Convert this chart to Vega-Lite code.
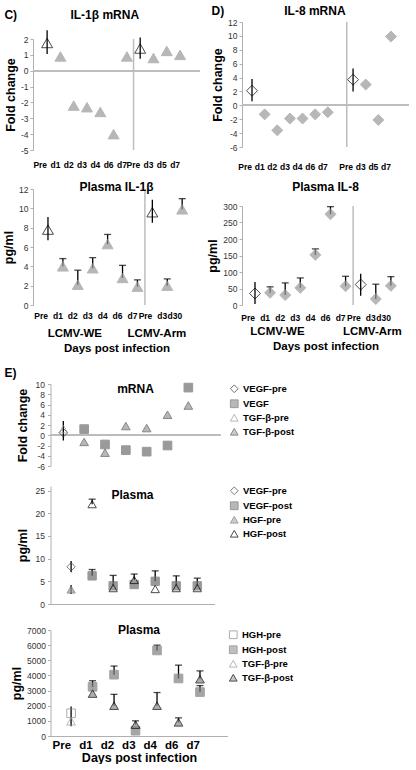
{
  "$schema": "https://vega.github.io/schema/vega-lite/v6.json",
  "padding": {"left": 2, "top": 2, "right": 2, "bottom": 0},
  "config": {
    "font": "Liberation Sans",
    "view": {"stroke": null},
    "axis": {"grid": false, "labelFontSize": 8.5, "labelColor": "#333", "labelOverlap": false, "labelBound": false, "domainColor": "#b0b0b0", "tickColor": "#b0b0b0", "tickSize": 3, "titleFontSize": 12.5, "titleFontWeight": "bold", "titleColor": "#000", "titlePadding": 3},
    "title": {"fontSize": 12, "fontWeight": "bold", "color": "#000"},
    "legend": {"labelFontSize": 9.5, "labelFontWeight": "bold", "labelColor": "#000", "symbolSize": 60, "rowPadding": 2, "padding": 0, "symbolStrokeWidth": 1}
  },
  "datasets": {
    "cm": [
      {"x": "WE-Pre", "v": 1.75, "lo": 1.05, "hi": 2.55, "k": "open"},
      {"x": "WE-d1", "v": 0.9, "k": "filled"},
      {"x": "WE-d2", "v": -2.2, "k": "filled"},
      {"x": "WE-d3", "v": -2.3, "k": "filled"},
      {"x": "WE-d4", "v": -2.6, "k": "filled"},
      {"x": "WE-d6", "v": -4.0, "k": "filled"},
      {"x": "WE-d7", "v": 0.9, "k": "filled"},
      {"x": "WE-d7", "k": "sep"},
      {"x": "Arm-Pre", "v": 1.4, "lo": 0.75, "hi": 2.1, "k": "open"},
      {"x": "Arm-d3", "v": 0.8, "k": "filled"},
      {"x": "Arm-d5", "v": 1.25, "k": "filled"},
      {"x": "Arm-d7", "v": 1.0, "k": "filled"}
    ],
    "cp": [
      {"x": "WE-Pre", "v": 7.8, "lo": 6.7, "hi": 9.1, "k": "open"},
      {"x": "WE-d1", "v": 4.0, "lo": 4.0, "hi": 4.8, "cap": 1, "k": "filled"},
      {"x": "WE-d2", "v": 2.1, "lo": 2.1, "hi": 3.6, "cap": 1, "k": "filled"},
      {"x": "WE-d3", "v": 3.8, "lo": 3.8, "hi": 4.9, "cap": 1, "k": "filled"},
      {"x": "WE-d4", "v": 6.3, "lo": 6.3, "hi": 7.3, "cap": 1, "k": "filled"},
      {"x": "WE-d6", "v": 2.8, "lo": 2.8, "hi": 4.1, "cap": 1, "k": "filled"},
      {"x": "WE-d7", "v": 1.9, "lo": 1.9, "hi": 2.6, "cap": 1, "k": "filled"},
      {"x": "WE-d7", "k": "sep"},
      {"x": "Arm-Pre", "v": 9.6, "lo": 8.5, "hi": 10.9, "k": "open"},
      {"x": "Arm-d3", "v": 2.0, "lo": 2.0, "hi": 2.7, "cap": 1, "k": "filled"},
      {"x": "Arm-d30", "v": 9.9, "lo": 9.9, "hi": 11.0, "cap": 1, "k": "filled"}
    ],
    "dm": [
      {"x": "WE-Pre", "v": 2.1, "lo": 0.6, "hi": 3.8, "k": "open"},
      {"x": "WE-d1", "v": -1.3, "k": "filled"},
      {"x": "WE-d2", "v": -3.6, "k": "filled"},
      {"x": "WE-d3", "v": -1.9, "k": "filled"},
      {"x": "WE-d4", "v": -1.9, "k": "filled"},
      {"x": "WE-d6", "v": -1.3, "k": "filled"},
      {"x": "WE-d7", "v": -1.0, "k": "filled"},
      {"x": "sep", "k": "sep"},
      {"x": "Arm-Pre", "v": 3.7, "lo": 2.0, "hi": 5.3, "k": "open"},
      {"x": "Arm-d3", "v": 3.0, "k": "filled"},
      {"x": "Arm-d5", "v": -2.1, "k": "filled"},
      {"x": "Arm-d7", "v": 9.9, "k": "filled"}
    ],
    "dp": [
      {"x": "WE-Pre", "v": 35, "lo": 3, "hi": 70, "k": "open"},
      {"x": "WE-d1", "v": 37, "lo": 37, "hi": 55, "cap": 1, "k": "filled"},
      {"x": "WE-d2", "v": 30, "lo": 30, "hi": 67, "cap": 1, "k": "filled"},
      {"x": "WE-d3", "v": 52, "lo": 52, "hi": 82, "cap": 1, "k": "filled"},
      {"x": "WE-d4", "v": 152, "lo": 152, "hi": 170, "cap": 1, "k": "filled"},
      {"x": "WE-d6", "v": 275, "lo": 275, "hi": 298, "cap": 1, "k": "filled"},
      {"x": "WE-d7", "v": 57, "lo": 57, "hi": 87, "cap": 1, "k": "filled"},
      {"x": "WE-d7", "k": "sep"},
      {"x": "Arm-Pre", "v": 62, "lo": 28, "hi": 95, "k": "open"},
      {"x": "Arm-d3", "v": 18, "lo": 18, "hi": 63, "cap": 1, "k": "filled"},
      {"x": "Arm-d30", "v": 58, "lo": 58, "hi": 86, "cap": 1, "k": "filled"}
    ],
    "em": [
      {"x": "Pre", "s": "VEGF-pre", "v": 0.5, "lo": -1.0, "hi": 2.8},
      {"x": "Pre", "s": "TGF-β-pre", "v": 1.2},
      {"x": "d1", "s": "VEGF", "v": 1.2},
      {"x": "d2", "s": "VEGF", "v": -1.8},
      {"x": "d3", "s": "VEGF", "v": -2.9},
      {"x": "d4", "s": "VEGF", "v": -3.2},
      {"x": "d6", "s": "VEGF", "v": -2.0},
      {"x": "d7", "s": "VEGF", "v": 9.3},
      {"x": "d1", "s": "TGF-β-post", "v": -1.3},
      {"x": "d2", "s": "TGF-β-post", "v": -3.4},
      {"x": "d3", "s": "TGF-β-post", "v": 1.8},
      {"x": "d4", "s": "TGF-β-post", "v": 1.4},
      {"x": "d6", "s": "TGF-β-post", "v": 4.0},
      {"x": "d7", "s": "TGF-β-post", "v": 5.8}
    ],
    "ep": [
      {"x": "Pre", "s": "VEGF-pre", "v": 8.2, "lo": 7.0, "hi": 9.5},
      {"x": "Pre", "s": "HGF-pre", "v": 3.2, "lo": 2.2, "hi": 4.2},
      {"x": "d1", "s": "VEGF-post", "v": 6.2, "lo": 6.2, "hi": 7.6, "cap": 1},
      {"x": "d2", "s": "VEGF-post", "v": 4.0, "lo": 4.0, "hi": 6.3, "cap": 1},
      {"x": "d3", "s": "VEGF-post", "v": 4.3},
      {"x": "d4", "s": "VEGF-post", "v": 5.0, "lo": 5.0, "hi": 7.3, "cap": 1},
      {"x": "d6", "s": "VEGF-post", "v": 4.0, "lo": 4.0, "hi": 6.2, "cap": 1},
      {"x": "d7", "s": "VEGF-post", "v": 4.0, "lo": 4.0, "hi": 5.7, "cap": 1},
      {"x": "d1", "s": "HGF-post", "v": 22.0, "lo": 22.0, "hi": 23.1, "cap": 1},
      {"x": "d2", "s": "HGF-post", "v": 3.5},
      {"x": "d3", "s": "HGF-post", "v": 5.3, "lo": 5.3, "hi": 6.6, "cap": 1},
      {"x": "d4", "s": "HGF-post", "v": 3.3},
      {"x": "d6", "s": "HGF-post", "v": 3.5},
      {"x": "d7", "s": "HGF-post", "v": 3.5}
    ],
    "eb": [
      {"x": "Pre", "s": "HGH-pre", "v": 1500, "lo": 650, "hi": 1940},
      {"x": "Pre", "s": "TGF-β-pre", "v": 970},
      {"x": "d1", "s": "HGH-post", "v": 3250, "lo": 3250, "hi": 3650, "cap": 1},
      {"x": "d2", "s": "HGH-post", "v": 4050, "lo": 4050, "hi": 4620, "cap": 1},
      {"x": "d3", "s": "HGH-post", "v": 350},
      {"x": "d4", "s": "HGH-post", "v": 5650, "lo": 5650, "hi": 6000, "cap": 1},
      {"x": "d6", "s": "HGH-post", "v": 3800, "lo": 3800, "hi": 4680, "cap": 1},
      {"x": "d7", "s": "HGH-post", "v": 2900, "lo": 2900, "hi": 3330, "cap": 1},
      {"x": "d1", "s": "TGF-β-post", "v": 2800},
      {"x": "d2", "s": "TGF-β-post", "v": 2000, "lo": 2000, "hi": 2750, "cap": 1},
      {"x": "d3", "s": "TGF-β-post", "v": 750, "lo": 750, "hi": 1000, "cap": 1},
      {"x": "d4", "s": "TGF-β-post", "v": 2000, "lo": 2000, "hi": 2870, "cap": 1},
      {"x": "d6", "s": "TGF-β-post", "v": 900, "lo": 900, "hi": 1200, "cap": 1},
      {"x": "d7", "s": "TGF-β-post", "v": 3750, "lo": 3750, "hi": 4300, "cap": 1}
    ]
  },
  "resolve": {"scale": {"shape": "independent", "fill": "independent", "stroke": "independent"}},
  "spacing": 13,
  "vconcat": [
    {
      "align": "none",
      "spacing": 5,
      "hconcat": [
        {
          "spacing": 5,
          "vconcat": [
            {"width": 167, "height": 1, "data": {"name": "cm"}, "mark": {"type": "point", "opacity": 0, "size": 1}, "encoding": {}},
            {
              "title": {"text": "C)\u00a0\u00a0\u00a0\u00a0\u00a0\u00a0\u00a0\u00a0\u00a0\u00a0\u00a0\u00a0\u00a0\u00a0\u00a0\u00a0IL-1β mRNA", "anchor": "start", "frame": "bounds", "offset": 8},
              "width": 167, "height": 111,
              "data": {"name": "cm"},
              "layer": [
                {"mark": {"type": "rule", "color": "#bdbdbd", "strokeWidth": 1.2}, "encoding": {"y": {"datum": 0, "type": "quantitative", "axis": {"values": [-5,-4,-3,-2,-1,0,1,2], "labelExpr": "'' + datum.value", "title": "Fold change"}}}},
                {"transform": [{"filter": "datum.k == 'sep'"}], "mark": {"type": "rule", "color": "#bdbdbd", "strokeWidth": 1.5}, "encoding": {"x": {"field": "x", "type": "nominal", "bandPosition": 1}}},
                {"transform": [{"filter": "isValid(datum.hi)"}], "mark": {"type": "rule", "color": "#000", "strokeWidth": 1.3}, "encoding": {"x": {"field": "x", "type": "nominal"}, "y": {"field": "lo", "type": "quantitative", "axis": {"values": [-5,-4,-3,-2,-1,0,1,2], "labelExpr": "'' + datum.value", "title": "Fold change"}}, "y2": {"field": "hi"}}},
                {"transform": [{"filter": "datum.k != 'sep'"}], "mark": {"type": "point", "filled": true, "shape": "triangle-up", "size": 120, "strokeWidth": 1},
                 "encoding": {
                   "x": {"field": "x", "type": "nominal", "scale": {"type": "band", "paddingInner": 0, "paddingOuter": 0.78, "align": 0.36, "domain": ["WE-Pre","WE-d1","WE-d2","WE-d3","WE-d4","WE-d6","WE-d7","Arm-Pre","Arm-d3","Arm-d5","Arm-d7"]},
                         "axis": {"orient": "bottom", "domain": false, "ticks": false, "labelAngle": 0, "labelFontWeight": "bold", "labelColor": "#000", "labelPadding": 14, "labelExpr": "split(datum.value, '-')[1]", "title": "\u00a0", "titleFontSize": 7, "titlePadding": 0}},
                   "y": {"field": "v", "type": "quantitative", "scale": {"domain": [-5, 2]}, "axis": {"values": [-5,-4,-3,-2,-1,0,1,2], "labelExpr": "'' + datum.value", "title": "Fold change"}},
                   "fill": {"condition": {"test": "datum.k == 'open'", "value": "transparent"}, "value": "#999999"},
                   "stroke": {"condition": {"test": "datum.k == 'open'", "value": "#000"}, "value": "#999999"}
                 }}
              ]
            },
            {
              "title": {"text": "Plasma IL-1β", "offset": -9},
              "width": 167, "height": 116,
              "data": {"name": "cp"},
              "layer": [
                {"transform": [{"filter": "datum.k == 'sep'"}], "mark": {"type": "rule", "color": "#bdbdbd", "strokeWidth": 1.5}, "encoding": {"x": {"field": "x", "type": "nominal", "bandPosition": 1}}},
                {"transform": [{"filter": "isValid(datum.hi)"}], "mark": {"type": "rule", "color": "#000", "strokeWidth": 1.3}, "encoding": {"x": {"field": "x", "type": "nominal"}, "y": {"field": "lo", "type": "quantitative", "axis": {"values": [0,2,4,6,8,10,12], "title": "pg/ml"}}, "y2": {"field": "hi"}}},
                {"transform": [{"filter": "datum.cap == 1"}], "mark": {"type": "tick", "color": "#000", "thickness": 1.3, "size": 7}, "encoding": {"x": {"field": "x", "type": "nominal"}, "y": {"field": "hi", "type": "quantitative", "axis": {"values": [0,2,4,6,8,10,12], "title": "pg/ml"}}}},
                {"transform": [{"filter": "datum.k != 'sep'"}], "mark": {"type": "point", "filled": true, "shape": "triangle-up", "size": 120, "strokeWidth": 1},
                 "encoding": {
                   "x": {"field": "x", "type": "nominal", "scale": {"type": "band", "paddingInner": 0, "paddingOuter": 0.6, "align": 0.42, "domain": ["WE-Pre","WE-d1","WE-d2","WE-d3","WE-d4","WE-d6","WE-d7","Arm-Pre","Arm-d3","Arm-d30"]},
                         "axis": {"orient": "bottom", "domain": false, "ticks": false, "labelAngle": 0, "labelFontWeight": "bold", "labelColor": "#000", "labelPadding": 10, "labelExpr": "split(datum.value, '-')[1]",
                                  "title": ["LCMV-WE\u00a0\u00a0\u00a0\u00a0\u00a0\u00a0\u00a0\u00a0LCMV-Arm", "Days post infection"], "titleFontSize": 11.5, "titlePadding": 8, "titleLineHeight": 15}},
                   "y": {"field": "v", "type": "quantitative", "scale": {"domain": [0, 12]}, "axis": {"values": [0,2,4,6,8,10,12], "title": "pg/ml"}},
                   "fill": {"condition": {"test": "datum.k == 'open'", "value": "transparent"}, "value": "#999999"},
                   "stroke": {"condition": {"test": "datum.k == 'open'", "value": "#000"}, "value": "#999999"}
                 }}
              ]
            }
          ]
        },
        {
          "spacing": 2,
          "vconcat": [
            {"width": 167, "height": 1, "data": {"name": "dm"}, "mark": {"type": "point", "opacity": 0, "size": 1}, "encoding": {}},
            {
              "title": {"text": "D)\u00a0\u00a0\u00a0\u00a0\u00a0\u00a0\u00a0\u00a0\u00a0\u00a0\u00a0\u00a0\u00a0\u00a0\u00a0\u00a0\u00a0\u00a0IL-8 mRNA", "anchor": "start", "frame": "bounds", "offset": 0},
              "width": 167, "height": 125,
              "data": {"name": "dm"},
              "layer": [
                {"mark": {"type": "rule", "color": "#bdbdbd", "strokeWidth": 1.2}, "encoding": {"y": {"datum": 0, "type": "quantitative", "axis": {"values": [-6,-4,-2,0,2,4,6,8,10,12], "labelExpr": "'' + datum.value", "title": "Fold change"}}}},
                {"transform": [{"filter": "datum.k == 'sep'"}], "mark": {"type": "rule", "color": "#bdbdbd", "strokeWidth": 1.5}, "encoding": {"x": {"field": "x", "type": "nominal", "bandPosition": 1}}},
                {"transform": [{"filter": "isValid(datum.hi)"}], "mark": {"type": "rule", "color": "#000", "strokeWidth": 1.3}, "encoding": {"x": {"field": "x", "type": "nominal"}, "y": {"field": "lo", "type": "quantitative", "axis": {"values": [-6,-4,-2,0,2,4,6,8,10,12], "labelExpr": "'' + datum.value", "title": "Fold change"}}, "y2": {"field": "hi"}}},
                {"transform": [{"filter": "datum.k != 'sep'"}], "mark": {"type": "point", "filled": true, "shape": "diamond", "size": 120, "strokeWidth": 1},
                 "encoding": {
                   "x": {"field": "x", "type": "nominal", "scale": {"type": "band", "paddingInner": 0, "paddingOuter": 0.61, "align": 0.24, "domain": ["WE-Pre","WE-d1","WE-d2","WE-d3","WE-d4","WE-d6","WE-d7","sep","Arm-Pre","Arm-d3","Arm-d5","Arm-d7"]},
                         "axis": {"orient": "bottom", "domain": false, "ticks": false, "labelAngle": 0, "labelFontWeight": "bold", "labelColor": "#000", "labelPadding": 19, "labelExpr": "datum.value == 'sep' ? '' : split(datum.value, '-')[1]", "title": "\u00a0", "titleFontSize": 8, "titlePadding": 0}},
                   "y": {"field": "v", "type": "quantitative", "scale": {"domain": [-6, 12]}, "axis": {"values": [-6,-4,-2,0,2,4,6,8,10,12], "labelExpr": "'' + datum.value", "title": "Fold change"}},
                   "fill": {"condition": {"test": "datum.k == 'open'", "value": "transparent"}, "value": "#999999"},
                   "stroke": {"condition": {"test": "datum.k == 'open'", "value": "#000"}, "value": "#999999"}
                 }}
              ]
            },
            {
              "title": {"text": "Plasma IL-8", "offset": 8},
              "width": 167, "height": 99,
              "data": {"name": "dp"},
              "layer": [
                {"transform": [{"filter": "datum.k == 'sep'"}], "mark": {"type": "rule", "color": "#bdbdbd", "strokeWidth": 1.5}, "encoding": {"x": {"field": "x", "type": "nominal", "bandPosition": 1}}},
                {"transform": [{"filter": "isValid(datum.hi)"}], "mark": {"type": "rule", "color": "#000", "strokeWidth": 1.3}, "encoding": {"x": {"field": "x", "type": "nominal"}, "y": {"field": "lo", "type": "quantitative", "axis": {"values": [0,50,100,150,200,250,300], "title": "pg/ml"}}, "y2": {"field": "hi"}}},
                {"transform": [{"filter": "datum.cap == 1"}], "mark": {"type": "tick", "color": "#000", "thickness": 1.3, "size": 7}, "encoding": {"x": {"field": "x", "type": "nominal"}, "y": {"field": "hi", "type": "quantitative", "axis": {"values": [0,50,100,150,200,250,300], "title": "pg/ml"}}}},
                {"transform": [{"filter": "datum.k != 'sep'"}], "mark": {"type": "point", "filled": true, "shape": "diamond", "size": 120, "strokeWidth": 1},
                 "encoding": {
                   "x": {"field": "x", "type": "nominal", "scale": {"type": "band", "paddingInner": 0, "paddingOuter": 0.53, "align": 0.34, "domain": ["WE-Pre","WE-d1","WE-d2","WE-d3","WE-d4","WE-d6","WE-d7","Arm-Pre","Arm-d3","Arm-d30"]},
                         "axis": {"orient": "bottom", "domain": false, "ticks": false, "labelAngle": 0, "labelFontWeight": "bold", "labelColor": "#000", "labelPadding": 12, "labelExpr": "split(datum.value, '-')[1]",
                                  "title": ["LCMV-WE\u00a0\u00a0\u00a0\u00a0\u00a0\u00a0\u00a0\u00a0\u00a0\u00a0\u00a0\u00a0LCMV-Arm", "Days post infection"], "titleFontSize": 11.5, "titlePadding": 4, "titleLineHeight": 15}},
                   "y": {"field": "v", "type": "quantitative", "scale": {"domain": [0, 300]}, "axis": {"values": [0,50,100,150,200,250,300], "title": "pg/ml"}},
                   "fill": {"condition": {"test": "datum.k == 'open'", "value": "transparent"}, "value": "#999999"},
                   "stroke": {"condition": {"test": "datum.k == 'open'", "value": "#000"}, "value": "#999999"}
                 }}
              ]
            }
          ]
        }
      ]
    },
    {
      "align": "none",
      "spacing": -29.5,
      "resolve": {"scale": {"shape": "independent", "fill": "independent", "stroke": "independent"}},
      "hconcat": [
        {"width": 1, "height": 1, "data": {"name": "em"}, "mark": {"type": "point", "opacity": 0, "size": 1}, "encoding": {}},
        {
          "title": {"text": "E)", "anchor": "start", "frame": "bounds", "fontSize": 12, "offset": 0, "dx": -6},
          "spacing": 15,
          "resolve": {"scale": {"shape": "independent", "fill": "independent", "stroke": "independent"}},
          "vconcat": [
            {
              "title": {"text": "mRNA", "offset": -16},
              "width": 170, "height": 82,
              "data": {"name": "em"},
              "layer": [
                {"mark": {"type": "rule", "color": "#bdbdbd", "strokeWidth": 1.2}, "encoding": {"y": {"datum": 0, "type": "quantitative", "axis": {"values": [-6,-4,-2,0,2,4,6,8,10], "labelExpr": "'' + datum.value", "title": "Fold change", "titlePadding": 6, "labelPadding": 3}}}},
                {"transform": [{"filter": "isValid(datum.hi)"}], "mark": {"type": "rule", "color": "#000", "strokeWidth": 1.3}, "encoding": {"x": {"field": "x", "type": "nominal"}, "y": {"field": "lo", "type": "quantitative", "axis": {"values": [-6,-4,-2,0,2,4,6,8,10], "labelExpr": "'' + datum.value", "title": "Fold change", "titlePadding": 6, "labelPadding": 3}}, "y2": {"field": "hi"}}},
                {"mark": {"type": "point", "filled": true, "size": 75, "strokeWidth": 1},
                 "encoding": {
                   "x": {"field": "x", "type": "nominal", "scale": {"type": "band", "paddingInner": 0, "paddingOuter": 0.58, "align": 0.1, "domain": ["Pre","d1","d2","d3","d4","d6","d7"]}, "axis": {"labels": false, "ticks": false, "domain": false, "title": null}},
                   "y": {"field": "v", "type": "quantitative", "scale": {"domain": [-6, 10]}, "axis": {"values": [-6,-4,-2,0,2,4,6,8,10], "labelExpr": "'' + datum.value", "title": "Fold change", "titlePadding": 6, "labelPadding": 3}},
                   "shape": {"field": "s", "type": "nominal", "scale": {"domain": ["VEGF-pre","VEGF","TGF-β-pre","TGF-β-post"], "range": ["diamond","square","triangle-up","triangle-up"]}, "legend": {"title": null, "offset": 9}},
                   "fill": {"field": "s", "type": "nominal", "scale": {"domain": ["VEGF-pre","VEGF","TGF-β-pre","TGF-β-post"], "range": ["transparent","#707070","transparent","#999999"]}, "legend": {"title": null, "offset": 9}},
                   "stroke": {"field": "s", "type": "nominal", "scale": {"domain": ["VEGF-pre","VEGF","TGF-β-pre","TGF-β-post"], "range": ["#333333","#707070","#999999","#555555"]}, "legend": {"title": null, "offset": 9}}
                 }}
              ]
            },
            {
              "title": {"text": "Plasma", "offset": -16},
              "width": 164, "height": 118,
              "data": {"name": "ep"},
              "layer": [
                {"transform": [{"filter": "isValid(datum.hi)"}], "mark": {"type": "rule", "color": "#000", "strokeWidth": 1.3}, "encoding": {"x": {"field": "x", "type": "nominal"}, "y": {"field": "lo", "type": "quantitative", "axis": {"values": [0,5,10,15,20,25], "title": "pg/ml", "titlePadding": 6, "labelPadding": 3}}, "y2": {"field": "hi"}}},
                {"transform": [{"filter": "datum.cap == 1"}], "mark": {"type": "tick", "color": "#000", "thickness": 1.3, "size": 7}, "encoding": {"x": {"field": "x", "type": "nominal"}, "y": {"field": "hi", "type": "quantitative", "axis": {"values": [0,5,10,15,20,25], "title": "pg/ml", "titlePadding": 6, "labelPadding": 3}}}},
                {"mark": {"type": "point", "filled": true, "size": 70, "strokeWidth": 1},
                 "encoding": {
                   "x": {"field": "x", "type": "nominal", "scale": {"type": "band", "paddingInner": 0, "paddingOuter": 0.4, "align": 0.6, "domain": ["Pre","d1","d2","d3","d4","d6","d7"]}, "axis": {"labels": false, "ticks": false, "title": null}},
                   "y": {"field": "v", "type": "quantitative", "scale": {"domain": [0, 25]}, "axis": {"values": [0,5,10,15,20,25], "title": "pg/ml", "titlePadding": 6, "labelPadding": 3}},
                   "shape": {"field": "s", "type": "nominal", "scale": {"domain": ["VEGF-pre","VEGF-post","HGF-pre","HGF-post"], "range": ["diamond","square","triangle-up","triangle-up"]}, "legend": {"title": null, "offset": 15}},
                   "fill": {"field": "s", "type": "nominal", "scale": {"domain": ["VEGF-pre","VEGF-post","HGF-pre","HGF-post"], "range": ["transparent","#6f6f6f","#999999","transparent"]}, "legend": {"title": null, "offset": 15}},
                   "stroke": {"field": "s", "type": "nominal", "scale": {"domain": ["VEGF-pre","VEGF-post","HGF-pre","HGF-post"], "range": ["#444444","#6f6f6f","#777777","#000000"]}, "legend": {"title": null, "offset": 15}}
                 }}
              ]
            },
            {
              "title": {"text": "Plasma", "offset": -11},
              "width": 177, "height": 106,
              "data": {"name": "eb"},
              "layer": [
                {"transform": [{"filter": "isValid(datum.hi)"}], "mark": {"type": "rule", "color": "#000", "strokeWidth": 1.3}, "encoding": {"x": {"field": "x", "type": "nominal"}, "y": {"field": "lo", "type": "quantitative", "axis": {"values": [0,1000,2000,3000,4000,5000,6000,7000], "labelExpr": "'' + datum.value", "title": "pg/ml"}}, "y2": {"field": "hi"}}},
                {"transform": [{"filter": "datum.cap == 1"}], "mark": {"type": "tick", "color": "#000", "thickness": 1.3, "size": 7}, "encoding": {"x": {"field": "x", "type": "nominal"}, "y": {"field": "hi", "type": "quantitative", "axis": {"values": [0,1000,2000,3000,4000,5000,6000,7000], "labelExpr": "'' + datum.value", "title": "pg/ml"}}}},
                {"mark": {"type": "point", "filled": true, "size": 75, "strokeWidth": 1},
                 "encoding": {
                   "x": {"field": "x", "type": "nominal", "scale": {"type": "band", "paddingInner": 0, "paddingOuter": 0.62, "align": 0.37, "domain": ["Pre","d1","d2","d3","d4","d6","d7"]}, "axis": {"ticks": false, "labelAngle": 0, "labelFontSize": 11.5, "labelFontWeight": "bold", "labelColor": "#000", "labelPadding": 9, "title": "Days post infection", "titlePadding": 1}},
                   "y": {"field": "v", "type": "quantitative", "scale": {"domain": [0, 7000]}, "axis": {"values": [0,1000,2000,3000,4000,5000,6000,7000], "labelExpr": "'' + datum.value", "title": "pg/ml"}},
                   "shape": {"field": "s", "type": "nominal", "scale": {"domain": ["HGH-pre","HGH-post","TGF-β-pre","TGF-β-post"], "range": ["square","square","triangle-up","triangle-up"]}, "legend": {"title": null, "offset": 1}},
                   "fill": {"field": "s", "type": "nominal", "scale": {"domain": ["HGH-pre","HGH-post","TGF-β-pre","TGF-β-post"], "range": ["transparent","#7f7f7f","transparent","#8c8c8c"]}, "legend": {"title": null, "offset": 1}},
                   "stroke": {"field": "s", "type": "nominal", "scale": {"domain": ["HGH-pre","HGH-post","TGF-β-pre","TGF-β-post"], "range": ["#888888","#7f7f7f","#999999","#000000"]}, "legend": {"title": null, "offset": 1}}
                 }}
              ]
            }
          ]
        }
      ]
    }
  ]
}
